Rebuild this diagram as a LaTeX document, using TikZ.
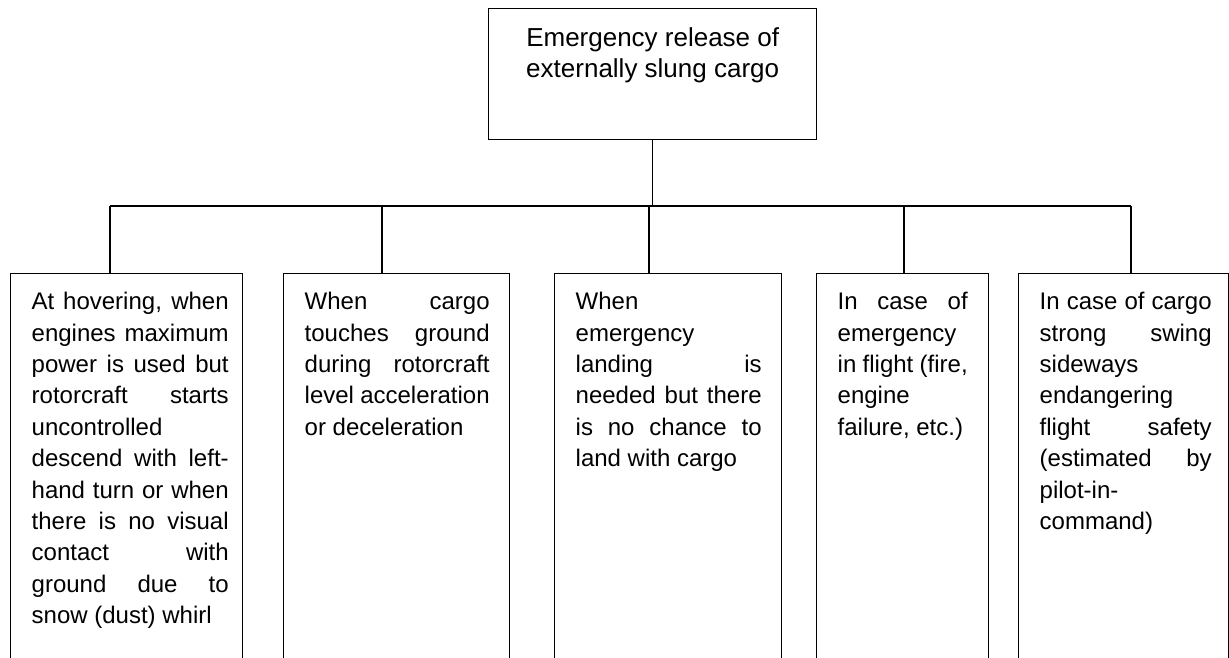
\documentclass[tikz,border=0pt]{standalone}
\usepackage{fontspec}
\setmainfont{Liberation Sans}
\newlength\jw
\newcommand{\jline}[1]{\hbox to\jw{#1}}
\newcommand{\nline}[1]{\hbox{#1}}
\newcommand{\btext}[3]{\setlength\jw{#2pt}\hbox to #1pt{\vtop{\baselineskip=31.4pt\lineskiplimit=-100pt #3}\hss}}
\tikzset{
  frame/.style={draw=black, line width=1.4pt},
  leaf/.style={frame, anchor=north west, inner xsep=21pt, inner ysep=0pt,
    text height=36pt, text depth=420pt, font=\fontsize{24pt}{31.4pt}\selectfont},
  root/.style={frame, anchor=north west, inner sep=0pt,
    text height=38pt, text depth=93pt, font=\fontsize{26pt}{31pt}\selectfont},
  link/.style={draw=black, line width=1.4pt}
}
\begin{document}
\begin{tikzpicture}[x=1pt,y=-1pt]
\useasboundingbox (0,0) rectangle (1229,657);
\clip (0,0) rectangle (1229,657);
\fill[white] (0,0) rectangle (1229,657);

\node[root] (top) at (488,8) {\vtop{\baselineskip=31pt\lineskiplimit=-100pt
  \hbox to 328pt{\hss Emergency release of\hss}
  \hbox to 328pt{\hss externally slung cargo\hss}}};

\node[leaf] (box1) at (10,273) {\btext{190}{197}{%
  \jline{At hovering, when}
  \jline{engines maximum}
  \jline{power is used but}
  \jline{rotorcraft starts}
  \nline{uncontrolled}
  \jline{descend with left-}
  \jline{hand turn or when}
  \jline{there is no visual}
  \jline{contact with}
  \jline{ground due to}
  \nline{snow (dust) whirl}}};

\node[leaf] (box2) at (283,273) {\btext{184}{185}{%
  \jline{When cargo}
  \jline{touches ground}
  \jline{during rotorcraft}
  \jline{level acceleration}
  \nline{or deceleration}}};

\node[leaf] (box3) at (554,273) {\btext{185}{186}{%
  \nline{When}
  \nline{emergency}
  \jline{landing is}
  \jline{needed but there}
  \jline{is no chance to}
  \nline{land with cargo}}};

\node[leaf] (box4) at (816,273) {\btext{130}{130}{%
  \jline{In case of}
  \nline{emergency}
  \jline{in flight (fire,}
  \nline{engine}
  \nline{failure, etc.)}}};

\node[leaf] (box5) at (1018,273) {\btext{168}{172}{%
  \jline{In case of cargo}
  \jline{strong swing}
  \nline{sideways}
  \nline{endangering}
  \jline{flight safety}
  \jline{(estimated by}
  \nline{pilot-in-}
  \nline{command)}}};

\coordinate (d1) at (110,206);
\coordinate (d2) at (382,206);
\coordinate (d3) at (649,206);
\coordinate (d4) at (904,206);
\coordinate (d5) at (1131,206);

\draw[link] (top.south) -- (top.south |- d1);
\draw[link] (d1) -- (d5);
\draw[link] (d1) -- (d1 |- box1.north);
\draw[link] (d2) -- (d2 |- box2.north);
\draw[link] (d3) -- (d3 |- box3.north);
\draw[link] (d4) -- (d4 |- box4.north);
\draw[link] (d5) -- (d5 |- box5.north);
\end{tikzpicture}
\end{document}
